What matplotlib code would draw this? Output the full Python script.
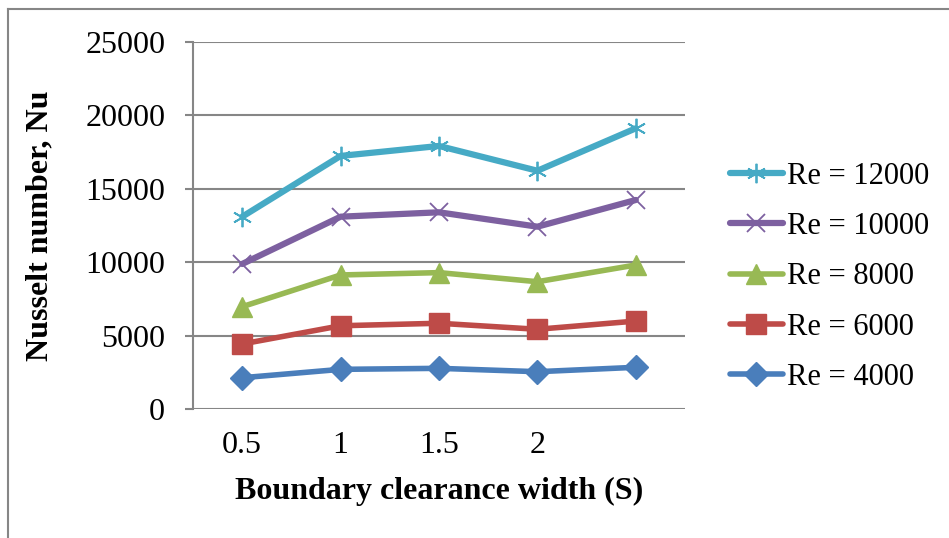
import numpy as np
import matplotlib.pyplot as plt
from matplotlib.lines import Line2D

plt.rcParams['font.family'] = ['Liberation Serif', 'DejaVu Serif']

# clearance widths (last category has no label in the original)
widths = ['0.5', '1', '1.5', '2', '']

re_4000 = [2130, 2700, 2770, 2540, 2840]
re_6000 = [4430, 5670, 5840, 5430, 5990]
re_8000 = [6970, 9130, 9290, 8670, 9810]
re_10000 = [9880, 13100, 13400, 12420, 14240]
re_12000 = [13100, 17240, 17920, 16230, 19120]

labels = ['Re = 4000', 'Re = 6000', 'Re = 8000', 'Re = 10000', 'Re = 12000']
colors = ['#4A7EBB', '#BE4B48', '#98B954', '#7D60A0', '#46AAC5']

fig = plt.figure(figsize=(9.49, 5.38), dpi=100)
ax = fig.add_axes([0.2034, 0.2398, 0.5184, 0.6821])

x = np.arange(len(widths))

ax.plot(x, re_4000, color=colors[0], lw=4, marker='D', ms=12,
        mec=colors[0], label=labels[0], solid_capstyle='round', zorder=3)
ax.plot(x, re_6000, color=colors[1], lw=4, marker='s', ms=14,
        mec=colors[1], label=labels[1], solid_capstyle='round', zorder=3)
ax.plot(x, re_8000, color=colors[2], lw=4, marker='^', ms=15,
        mec=colors[2], label=labels[2], solid_capstyle='round', zorder=3)
ax.plot(x, re_10000, color=colors[3], lw=4.5, marker='x', ms=13, mew=1.3,
        mec=colors[3], label=labels[3], solid_capstyle='round', zorder=3)
ax.plot(x, re_12000, color=colors[4], lw=4.5, marker=(6, 2, 0), ms=14, mew=1.3,
        mec=colors[4], label=labels[4], solid_capstyle='round', zorder=3)

ax.set_xlim(-0.5, 4.5)
ax.set_ylim(0, 25000)
ax.set_yticks(np.arange(0, 25001, 5000))
ax.set_xticks(x)
ax.set_xticklabels(widths)

ax.yaxis.grid(True, color='#868686', lw=1.5)
ax.set_axisbelow(True)
for s in ['top', 'right', 'bottom']:
    ax.spines[s].set_visible(False)
ax.spines['left'].set_color('#868686')
ax.spines['left'].set_linewidth(1.5)
ax.tick_params(axis='y', length=6, width=1.5, color='#868686', labelsize=23, pad=14)
ax.tick_params(axis='x', length=0, labelsize=23, pad=16)

ax.set_xlabel('Boundary clearance width (S)', fontsize=23, fontweight='bold', labelpad=12)
ax.set_ylabel('Nusselt number, Nu', fontsize=23, fontweight='bold', labelpad=22)

h, l = ax.get_legend_handles_labels()
ax.legend(h[::-1], l[::-1], loc='center left', bbox_to_anchor=(1.066, 0.36),
          frameon=False, fontsize=22, handlelength=1.75, handletextpad=0.12,
          labelspacing=0.7, borderaxespad=0)

# chart area border (only top and left edges visible)
fig.add_artist(Line2D([8 / 949, 1], [1 - 9 / 538, 1 - 9 / 538],
                      transform=fig.transFigure, color='#868686', lw=1.5))
fig.add_artist(Line2D([8 / 949, 8 / 949], [0, 1 - 9 / 538],
                      transform=fig.transFigure, color='#868686', lw=1.5))

fig.savefig('out.png', dpi=100)
